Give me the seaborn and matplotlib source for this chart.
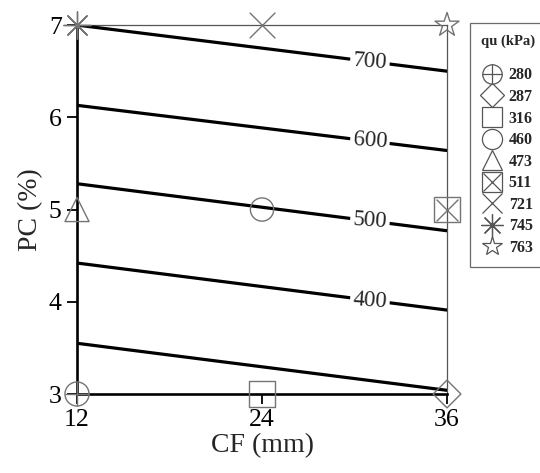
import numpy as np
import pandas as pd
import matplotlib
matplotlib.use("Agg")
import matplotlib.pyplot as plt
from matplotlib.lines import Line2D
from matplotlib.legend_handler import HandlerTuple
import seaborn as sns

# Contour lines of qu (kPa): PC (%) at CF = 12 mm and CF = 36 mm
levels = [300, 400, 500, 600, 700]
pc_at_cf12 = [3.55, 4.42, 5.28, 6.13, 7.00]
pc_at_cf36 = [3.04, 3.91, 4.77, 5.64, 6.50]
labelled_levels = [400, 500, 600, 700]
label_cf = 31.0

# Test points
qu_values = [280, 287, 316, 460, 473, 511, 721, 745, 763]
cf_points = [12, 36, 24, 24, 12, 36, 24, 12, 36]
pc_points = [3, 3, 3, 5, 5, 5, 7, 7, 7]

x_ticks = [12, 24, 36]
y_ticks = [3, 4, 5, 6, 7]

sns.set_theme(style="white")
plt.rcParams["font.family"] = ["Liberation Serif", "DejaVu Serif"]

fig = plt.figure(figsize=(5.40, 4.73), dpi=100)
ax = fig.add_axes([0.1426, 0.167, 0.6852, 0.780])

lines_df = pd.DataFrame({
    "level": np.repeat(levels, 2),
    "CF": np.tile([12, 36], len(levels)),
    "PC": np.ravel(np.column_stack([pc_at_cf12, pc_at_cf36])),
})
sns.lineplot(data=lines_df, x="CF", y="PC", units="level", estimator=None,
             color="black", lw=2.3, ax=ax, legend=False, zorder=3)

for lev, p0, p1 in zip(levels, pc_at_cf12, pc_at_cf36):
    if lev not in labelled_levels:
        continue
    yv = np.interp(label_cf, [12, 36], [p0, p1])
    ax.text(label_cf, yv, f"{lev}", ha="center", va="center", fontsize=16.5,
            rotation=-4, zorder=4,
            bbox=dict(boxstyle="square,pad=0.12", fc="white", ec="none"))

grey = "#747474"
pts = pd.DataFrame({"qu": qu_values, "CF": cf_points, "PC": pc_points})

base_marker = {280: "o", 287: "D", 316: "s", 460: "o", 473: "^",
               511: "s", 721: "x", 745: (8, 2, 0), 763: "*"}
overlay_marker = {280: "+", 511: "x"}
size_of = {280: 300, 287: 200, 316: 330, 460: 280, 473: 300,
           511: 330, 721: 340, 745: 380, 763: 330}
leg_size = {280: 14, 287: 12, 316: 15, 460: 14.5, 473: 14,
            511: 15, 721: 15, 745: 16, 763: 15}
ov_leg_size = {280: 14, 511: 12.5}

handles = []
for q in qu_values:
    row = pts[pts.qu == q]
    m = base_marker[q]
    line_like = m in ("x", "+") or isinstance(m, tuple)
    sns.scatterplot(data=row, x="CF", y="PC", marker=m, s=size_of[q],
                    facecolor=grey if line_like else "none",
                    edgecolor=grey, linewidth=1.0, zorder=5, clip_on=False,
                    legend=False, ax=ax)
    h = [Line2D([], [], ls="none", marker=m, markersize=leg_size[q],
                markerfacecolor="none", markeredgecolor="#555555",
                markeredgewidth=0.9, color="#555555")]
    if q in overlay_marker:
        sns.scatterplot(data=row, x="CF", y="PC", marker=overlay_marker[q],
                        s=size_of[q] * (1.0 if q == 280 else 0.75),
                        color=grey, linewidth=1.0,
                        zorder=6, clip_on=False, legend=False, ax=ax)
        h.append(Line2D([], [], ls="none", marker=overlay_marker[q],
                        markersize=ov_leg_size[q], color="#555555",
                        markeredgewidth=0.9))
    handles.append(tuple(h))

ax.set_xlim(12, 36)
ax.set_ylim(3, 7)
ax.set_xticks(x_ticks)
ax.set_yticks(y_ticks)
ax.tick_params(axis="both", direction="out", length=7, width=1.3,
               labelsize=18.5, colors="black", left=True, bottom=True, pad=4)
ax.set_xlabel("CF (mm)", fontsize=20, labelpad=1)
ax.set_ylabel("PC (%)", fontsize=20, labelpad=4)

for side in ("left", "bottom"):
    ax.spines[side].set_color("black")
    ax.spines[side].set_linewidth(1.9)
for side in ("top", "right"):
    ax.spines[side].set_color("#555555")
    ax.spines[side].set_linewidth(0.9)

leg = fig.legend(handles, [str(q) for q in qu_values],
                 handler_map={tuple: HandlerTuple(ndivide=1, pad=0)},
                 loc="upper left", bbox_to_anchor=(0.870, 0.951),
                 title="qu (kPa)", title_fontsize=10.5,
                 prop=dict(weight="bold", size=11.5),
                 frameon=True, fancybox=False, edgecolor="#444444",
                 handlelength=1.15, handletextpad=0.45, labelspacing=0.35,
                 borderpad=0.7, borderaxespad=0)
leg.get_frame().set_linewidth(0.9)
leg.get_title().set_fontweight("bold")
# extra room between the legend title and the first entry
leg._legend_box.sep += 10

fig.savefig("out.png", dpi=100, facecolor="white")
